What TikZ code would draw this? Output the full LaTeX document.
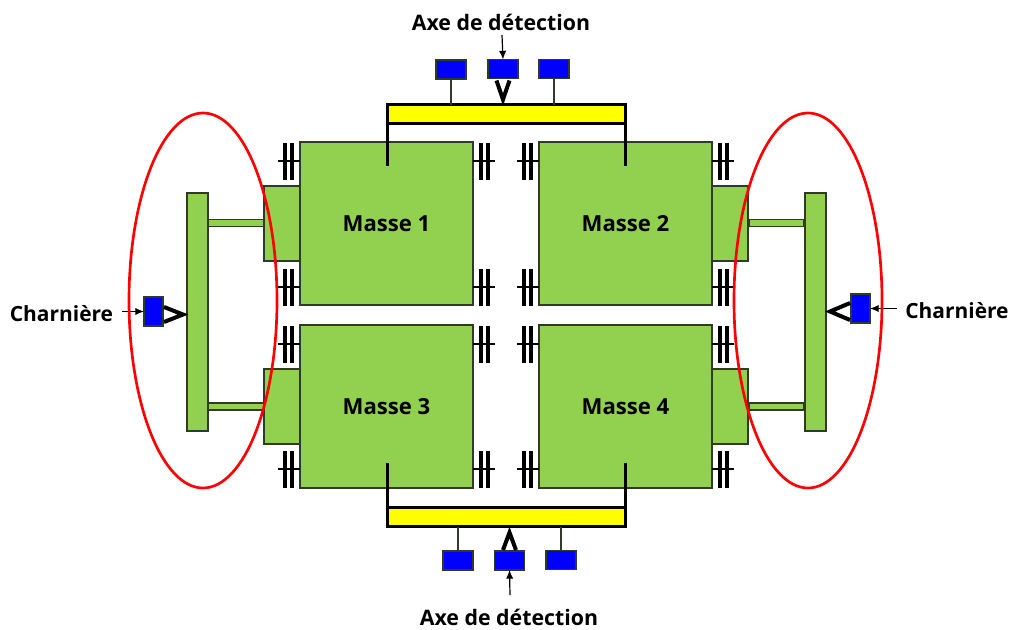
\documentclass[tikz,border=0pt]{standalone}
\usepackage{fontspec}
\setmainfont{Open Sans}
\usetikzlibrary{calc}
\usetikzlibrary{arrows.meta}

\definecolor{massgreen}{HTML}{92D050}
\definecolor{edgegray}{HTML}{2F3A28}
\definecolor{sensorblue}{HTML}{0000FF}
\definecolor{beamyellow}{HTML}{FFFF00}
\definecolor{zonered}{HTML}{FF0000}

\tikzset{
    block/.style={draw=edgegray, line width=1.1pt, inner sep=0pt, outer sep=0pt},
    mass/.style={block, fill=massgreen, minimum width=129.75pt, minimum height=122.25pt, font=\fontsize{16.6}{18}\bfseries},
    tab/.style={block, fill=massgreen, minimum width=27pt, minimum height=56.25pt},
    stem/.style={block, fill=massgreen, minimum width=41.25pt, minimum height=5.25pt},
    bar/.style={block, fill=massgreen, minimum width=15.75pt, minimum height=178.5pt},
    sensor/.style={block, fill=sensorblue, minimum width=22.5pt, minimum height=14.25pt},
    hinge/.style={block, fill=sensorblue, minimum width=14.25pt, minimum height=21.75pt},
    beam/.style={draw=black, line width=2.4pt, fill=beamyellow, inner sep=0pt, outer sep=0pt, minimum width=178.5pt, minimum height=14.25pt},
    caption/.style={font=\fontsize{16}{18}\bfseries, inner sep=0pt},
    sidecaption/.style={font=\fontsize{15.7}{18}\bfseries, inner sep=0pt},
    link/.style={draw=edgegray, line width=1pt},
    vee/.style={line width=3pt, line join=miter},
    leg/.style={line width=2.4pt},
    pointer/.style={line width=0.9pt, -{Latex[length=6.5pt, width=5.5pt]}},
    zone/.style={draw=zonered, line width=2pt}
}

\begin{document}
\begin{tikzpicture}[x=0.75pt, y=-0.75pt]

    \useasboundingbox (0,0) rectangle (1011,629);

    % guidance stems and side tabs
    \node[tab] (tab1) at (282,223.5){};
    \node[tab] (tab3) at (282,406.5){};
    \node[tab] (tab2) at (730,223.5){};
    \node[tab] (tab4) at (730,406.5){};

    \node[bar] (barL) at (197.5,312){};
    \node[bar] (barR) at (815.5,312){};

    \node[stem] (stem1) at (236,223){};
    \node[stem] (stem3) at (236,406.5){};
    \node[stem] (stem2) at (776.5,223){};
    \node[stem] (stem4) at (776.5,406.5){};

    \node[mass] (M1) at (386.5,223.5){Masse 1};
    \node[mass] (M2) at (625.5,223.5){Masse 2};
    \node[mass] (M3) at (386.5,406.5){Masse 3};
    \node[mass] (M4) at (625.5,406.5){Masse 4};

    % springs
    \foreach \xs/\d in {300/-1, 473/1, 539/-1, 712/1}{
        \foreach \ys in {161, 287, 344, 469}{
            \draw[line width=2.9pt] (\xs+8*\d,\ys-18) -- (\xs+8*\d,\ys+19);
            \draw[line width=2.9pt] (\xs+15*\d,\ys-18) -- (\xs+15*\d,\ys+19);
            \draw[line width=2.2pt] (\xs,\ys) -- (\xs+22*\d,\ys);
        }
    }

    % top detection
    \node[beam] (beamT) at (506.5,114){};
    \node[sensor] (sT1) at (451,69.5){};
    \node[sensor] (sT2) at (503,69){};
    \node[sensor] (sT3) at (554,69){};

    \draw[leg] (beamT.north west) -- (387.5,166);
    \draw[leg] (beamT.north east) -- (625.5,166);
    \draw[link] (sT1.south) -- (sT1.south |- beamT.north);
    \draw[link] (sT3.south) -- (sT3.south |- beamT.north);
    \draw[vee] ($(sT2.south)+(-6.5,2)$) -- ($(sT2.south |- beamT.north)+(0,-5)$) -- ($(sT2.south)+(6.5,2)$);

    \node[caption] (axeT) at (501,22.5){Axe de détection};
    \coordinate (axeTstart) at (502,35);
    \draw[pointer] (axeTstart) -- (sT2.north);

    % bottom detection
    \node[beam] (beamB) at (506.5,517){};
    \node[sensor] (sB1) at (458,560.5){};
    \node[sensor] (sB2) at (509.5,560.5){};
    \node[sensor] (sB3) at (561,560){};

    \draw[leg] (beamB.south west) -- (387.5,463);
    \draw[leg] (beamB.south east) -- (625.5,463);
    \draw[link] (sB1.north) -- (sB1.north |- beamB.south);
    \draw[link] (sB3.north) -- (sB3.north |- beamB.south);
    \draw[vee] ($(sB2.north)+(-6.5,-1)$) -- ($(sB2.north |- beamB.south)+(0,6)$) -- ($(sB2.north)+(6.5,-1)$);

    \node[caption] (axeB) at (509,617.5){Axe de détection};
    \coordinate (axeBstart) at (510,595);
    \draw[pointer] (axeBstart) -- (sB2.south);

    % hinges
    \node[hinge] (hL) at (153.5,311.5){};
    \node[hinge] (hR) at (860.5,308.5){};

    \draw[vee] ($(hL.east)+(1,-4.5)$) -- ($(barL.west |- hL.east)+(-4,3)$) -- ($(hL.east)+(1,10.5)$);
    \draw[vee] ($(hR.west)+(-1,-5.5)$) -- ($(barR.east |- hR.west)+(4,3)$) -- ($(hR.west)+(-1,11.5)$);

    \node[sidecaption] (charL) at (61.5,314){Charnière};
    \node[sidecaption] (charR) at (957,311){Charnière};
    \coordinate (charLstart) at (122,311.5);
    \coordinate (charRstart) at (897,308.5);
    \draw[pointer] (charLstart) -- (hL.west);
    \draw[pointer] (charRstart) -- (hR.east);

    \draw[zone] (203,300.5) ellipse (74 and 187.5);
    \draw[zone] (808,300.5) ellipse (74 and 187.5);

\end{tikzpicture}
\end{document}
